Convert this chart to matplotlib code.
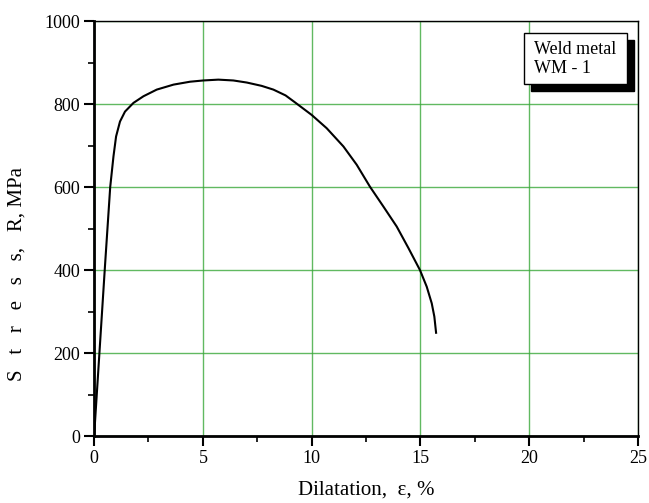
import matplotlib
matplotlib.use('Agg')
import matplotlib.pyplot as plt
from matplotlib.patches import Rectangle
from matplotlib.ticker import MultipleLocator

plt.rcParams['font.family'] = ['Liberation Serif', 'DejaVu Serif']

# strain (%) and stress (MPa)
strain = [0, 0.25, 0.5, 0.74, 0.89, 1.01, 1.19, 1.42, 1.81, 2.27, 2.88, 3.65, 4.41,
          5.02, 5.71, 6.4, 7.02, 7.7, 8.24, 8.8, 9.24, 10.0, 10.69, 11.46, 12.07,
          12.68, 13.3, 13.91, 14.45, 14.98, 15.29, 15.52, 15.64, 15.72]
stress = [0, 205, 410, 600, 674, 722, 758, 782, 803, 819, 835, 847, 854,
          857, 859, 857, 852, 844, 835, 821, 804, 774, 742, 698, 654,
          601, 553, 505, 453, 400, 360, 320, 288, 249]

label_lines = ['Weld metal', 'WM - 1']

fig = plt.figure(figsize=(6.49, 5.03), dpi=100)
ax = fig.add_axes([0.145, 0.133, 0.838, 0.825])

ax.plot(strain, stress, color='black', lw=1.5, zorder=3, solid_joinstyle='round')

ax.set_xlim(0, 25)
ax.set_ylim(0, 1000)
ax.xaxis.set_major_locator(MultipleLocator(5))
ax.xaxis.set_minor_locator(MultipleLocator(2.5))
ax.yaxis.set_major_locator(MultipleLocator(200))
ax.yaxis.set_minor_locator(MultipleLocator(100))
ax.grid(which='major', color='#3aa83a', lw=1.0, alpha=0.8, zorder=1)

ax.tick_params(which='both', direction='out', top=False, right=False, labelsize=13)
ax.tick_params(which='major', length=7, width=1.5, pad=3)
ax.tick_params(which='minor', length=4, width=1.2)
for side in ['left', 'bottom']:
    ax.spines[side].set_linewidth(2)
for side in ['top', 'right']:
    ax.spines[side].set_linewidth(1)

ax.set_xlabel('Dilatation,  \u03b5, %', fontsize=15, labelpad=10)
ax.set_ylabel('S   t   r   e   s   s,   R, MPa', fontsize=15)
ax.yaxis.set_label_coords(-0.125, 0.39)

# label box with drop shadow
bx, by, bw, bh = 0.790, 0.848, 0.190, 0.123
ax.add_patch(Rectangle((bx + 0.013, by - 0.017), bw, bh, transform=ax.transAxes,
                       facecolor='black', edgecolor='black', zorder=5, clip_on=False))
ax.add_patch(Rectangle((bx, by), bw, bh, transform=ax.transAxes,
                       facecolor='white', edgecolor='black', lw=1, zorder=6, clip_on=False))
ax.text(bx + 0.018, by + bh / 2, '\n'.join(label_lines), transform=ax.transAxes,
        fontsize=13, va='center', ha='left', linespacing=1.15, zorder=7)

fig.savefig('out.png', dpi=100)
